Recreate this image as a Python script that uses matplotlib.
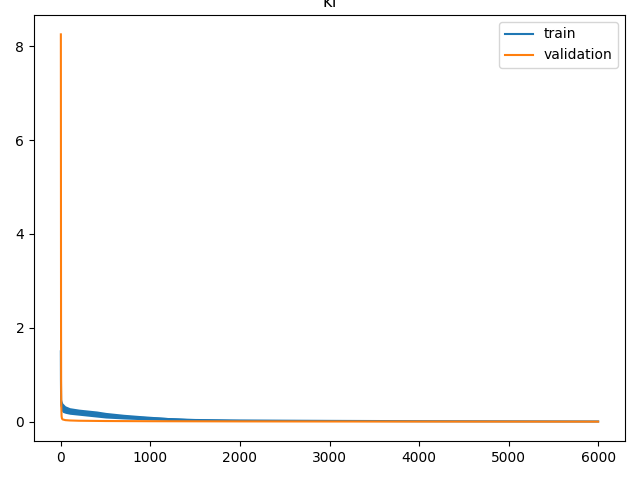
import numpy as np
import matplotlib
matplotlib.use("Agg")
import matplotlib.pyplot as plt

train_epochs = [0, 1, 2, 3, 5, 10, 20, 50, 100, 200, 300, 400, 500, 700, 900,
                1200, 1500, 2000, 2500, 3000, 4000, 5000, 5999]
train_hi = [1.5, 0.9, 0.7, 0.6, 0.5, 0.45, 0.40, 0.34, 0.30, 0.27, 0.25, 0.23,
            0.20, 0.16, 0.13, 0.09, 0.06, 0.045, 0.038, 0.032, 0.022, 0.016, 0.012]
train_lo = [1.5, 0.9, 0.6, 0.35, 0.25, 0.22, 0.20, 0.18, 0.16, 0.14, 0.12, 0.10,
            0.08, 0.06, 0.045, 0.028, 0.018, 0.012, 0.009, 0.007, 0.005, 0.004, 0.003]
train_mid = [1.5, 0.9, 0.65, 0.45, 0.35, 0.32, 0.29, 0.25, 0.23, 0.2, 0.18, 0.16,
             0.14, 0.11, 0.085, 0.058, 0.038, 0.028, 0.023, 0.019, 0.013, 0.01, 0.007]

# validation loss
val_epochs = [0, 1, 2, 3, 5, 8, 12, 20, 50, 100, 200, 500, 1000, 2000, 3000,
              4000, 5000, 5999]
val_loss = [8.25, 5.0, 2.0, 0.8, 0.3, 0.12, 0.07, 0.05, 0.035, 0.028, 0.022, 0.016,
            0.012, 0.008, 0.006, 0.005, 0.004, 0.003]

fig = plt.figure(figsize=(6.4, 4.8), dpi=100)
ax = fig.add_subplot(111)
ax.fill_between(train_epochs, train_lo, train_hi, color="C0", lw=0)
ax.plot(train_epochs, train_mid, color="C0", label="train")
ax.plot(val_epochs, val_loss, color="C1", label="validation")
ax.legend()
plt.subplots_adjust(left=34/640, right=625/640, top=1-15/480, bottom=1-441/480)
ax.set_title("kl")
fig.savefig("out.png")
